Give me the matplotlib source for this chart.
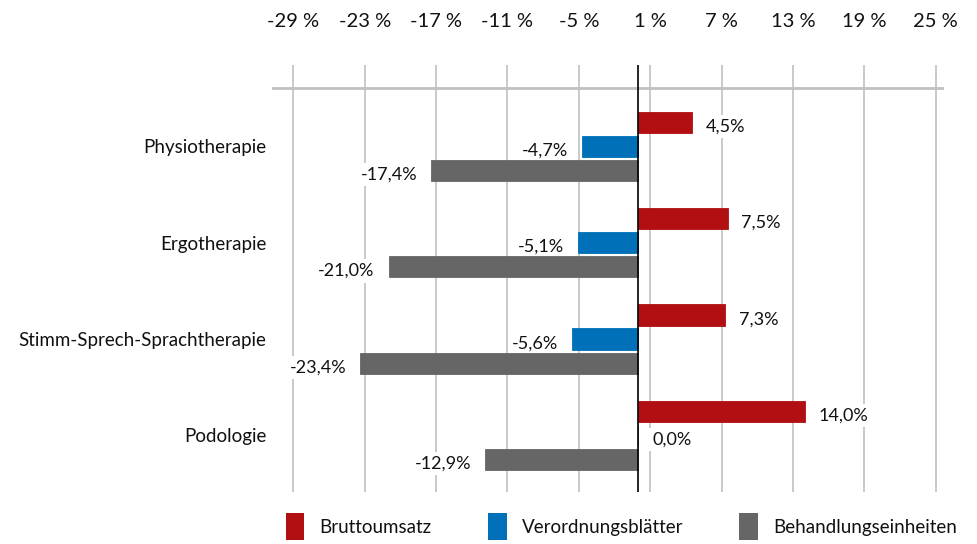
import numpy as np
import matplotlib
matplotlib.use("Agg")
import matplotlib.pyplot as plt
from matplotlib.patches import Patch

plt.rcParams['font.family'] = ['Lato', 'DejaVu Sans']

categories = ['Physiotherapie', 'Ergotherapie', 'Stimm-Sprech-Sprachtherapie', 'Podologie']
series_names = ['Bruttoumsatz', 'Verordnungsblätter', 'Behandlungseinheiten']
bruttoumsatz = [4.5, 7.5, 7.3, 14.0]
verordnungsblaetter = [-4.7, -5.1, -5.6, 0.0]
behandlungseinheiten = [-17.4, -21.0, -23.4, -12.9]
x_ticks = [-29, -23, -17, -11, -5, 1, 7, 13, 19, 25]

colors = ['#b20f12', '#0070b8', '#666666']
series = [bruttoumsatz, verordnungsblaetter, behandlungseinheiten]
fs = 13
txt_col = '#111111'

fig = plt.figure(figsize=(9.77, 5.44), dpi=100)
ax = fig.add_axes([0.2784, 0.0956, 0.6878, 0.7849])

y = np.arange(len(categories))
offsets = [-0.25, 0, 0.25]
for vals, col, off in zip(series, colors, offsets):
    bars = ax.barh(y + off, vals, height=0.22, color=col, edgecolor=col,
                   linewidth=0.6, zorder=3)
    for b, v in zip(bars, vals):
        txt = f"{v:.1f}%".replace('.', ',')
        yc = b.get_y() + b.get_height() / 2
        if v < 0:
            ax.annotate(txt, (v, yc), xytext=(-10, -3), textcoords='offset points',
                        ha='right', va='center', fontsize=fs, zorder=2.5, color=txt_col,
                        bbox=dict(boxstyle='square,pad=0.2', fc='white', ec='none'))
        else:
            ax.annotate(txt, (v, yc), xytext=(10, -3), textcoords='offset points',
                        ha='left', va='center', fontsize=fs, zorder=2.5, color=txt_col,
                        bbox=dict(boxstyle='square,pad=0.2', fc='white', ec='none'))

ax.set_xlim(-30.8, 25.7)
ax.set_ylim(3.588, -0.846)
ax.set_xticks(x_ticks)
ax.set_xticklabels([f"{t} %" for t in x_ticks], fontsize=14.5, color=txt_col)
ax.xaxis.tick_top()
ax.tick_params(axis='x', length=0, pad=25)
ax.set_yticks(y)
ax.set_yticklabels(categories, fontsize=fs + 0.5, color=txt_col)
ax.tick_params(axis='y', length=0, pad=4)
ax.grid(axis='x', color='#c0c0c0', linewidth=1.2, zorder=0)
ax.axvline(0, color='black', linewidth=1.2, zorder=5)
ax.axhline(-0.607, color='#c0c0c0', linewidth=2, zorder=1)
for s in ax.spines.values():
    s.set_visible(False)

handles = [Patch(facecolor=c) for c in colors]
leg = fig.legend(handles, series_names, loc='center', bbox_to_anchor=(0.636, 0.032), ncol=3,
                 frameon=False, fontsize=fs + 0.5, handlelength=1.0, handleheight=1.8,
                 columnspacing=3.0, handletextpad=0.8)
for t in leg.get_texts():
    t.set_color(txt_col)

fig.savefig('out.png', dpi=100)
